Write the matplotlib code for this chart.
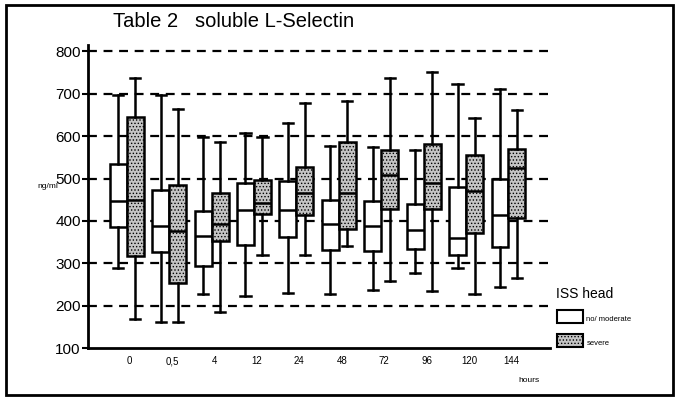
# IMPORT LIBRARIES
import numpy as np
import matplotlib.pyplot as plt
from matplotlib.patches import Rectangle

plt.rcParams['font.family'] = ['Liberation Sans', 'DejaVu Sans']
plt.rcParams['hatch.color'] = '#444444'
plt.rcParams['hatch.linewidth'] = 0.6

# DATA (ng/ml)
hours = ['0', '0,5', '4', '12', '24', '48', '72', '96', '120', '144']

# NO / MODERATE
mod_lo = [290, 161, 227, 223, 231, 228, 237, 276, 288, 245]
mod_q1 = [385, 327, 293, 343, 362, 331, 329, 333, 319, 339]
mod_med = [446, 389, 364, 426, 426, 392, 387, 378, 360, 413]
mod_q3 = [535, 474, 423, 489, 495, 450, 448, 440, 481, 499]
mod_hi = [698, 696, 599, 608, 630, 577, 575, 567, 723, 711]

# SEVERE
sev_lo = [168, 161, 186, 319, 319, 341, 258, 235, 227, 266]
sev_q1 = [318, 253, 353, 417, 413, 380, 427, 427, 371, 407]
sev_med = [449, 376, 393, 442, 465, 465, 509, 489, 471, 524]
sev_q3 = [645, 485, 466, 497, 526, 586, 567, 581, 556, 570]
sev_hi = [737, 665, 587, 599, 677, 684, 737, 752, 643, 661]


def make_stats(lo, q1, med, q3, hi):
    stats = []
    for i in range(len(lo)):
        stats.append({'whislo': lo[i], 'q1': q1[i], 'med': med[i],
                      'q3': q3[i], 'whishi': hi[i], 'fliers': []})
    return stats


fig = plt.figure(figsize=(6.85, 4.09), dpi=100)
ax = fig.add_axes([0.128, 0.149, 0.675, 0.741])

x = np.arange(len(hours))

# GRID
for v in range(200, 900, 100):
    ax.axhline(v, color='black', linestyle=(0, (4, 3)), linewidth=1.6, zorder=1)

line_style = dict(linewidth=1.8, color='black')

b1 = ax.bxp(make_stats(mod_lo, mod_q1, mod_med, mod_q3, mod_hi),
            positions=x - 0.2, widths=0.4, capwidths=0.24, patch_artist=True,
            boxprops=dict(linewidth=1.8, edgecolor='black', facecolor='white'),
            medianprops=line_style, whiskerprops=line_style, capprops=line_style,
            showfliers=False, manage_ticks=False)
b2 = ax.bxp(make_stats(sev_lo, sev_q1, sev_med, sev_q3, sev_hi),
            positions=x + 0.2, widths=0.4, capwidths=0.24, patch_artist=True,
            boxprops=dict(linewidth=1.8, edgecolor='black', facecolor='#c4c4c4', hatch='.....'),
            medianprops=line_style, whiskerprops=line_style, capprops=line_style,
            showfliers=False, manage_ticks=False)
for b in (b1, b2):
    for art in b['boxes'] + b['whiskers'] + b['caps'] + b['medians']:
        art.set_zorder(3)

ax.set_xlim(-0.92, 9.98)
ax.set_ylim(100, 815)
ax.set_yticks(range(100, 900, 100))
ax.set_xticks(x + 0.07)
ax.set_xticklabels(hours, fontsize=7)
ax.tick_params(axis='y', labelsize=11, length=4, width=1.5, pad=1)
ax.tick_params(axis='x', length=0, pad=6)

for s in ['top', 'right']:
    ax.spines[s].set_visible(False)
ax.spines['left'].set_linewidth(2)
ax.spines['bottom'].set_linewidth(2)

# TEXTS
fig.text(0.165, 0.935, 'Table 2   soluble L-Selectin', fontsize=14.5)
fig.text(0.055, 0.54, 'ng/ml', fontsize=6)
fig.text(0.757, 0.065, 'hours', fontsize=6)

# LEGEND
fig.text(0.812, 0.272, 'ISS head', fontsize=10)
fig.patches.append(Rectangle((0.813, 0.21), 0.038, 0.032, transform=fig.transFigure,
                             facecolor='white', edgecolor='black', linewidth=1.5))
fig.text(0.856, 0.215, 'no/ moderate', fontsize=5.5)
fig.patches.append(Rectangle((0.813, 0.152), 0.038, 0.032, transform=fig.transFigure,
                             facecolor='#c4c4c4', edgecolor='black', linewidth=1.5,
                             hatch='.....'))
fig.text(0.856, 0.157, 'severe', fontsize=5.5)

# FRAME
fig.patches.append(Rectangle((0.009, 0.034), 0.973, 0.953, transform=fig.transFigure,
                             facecolor='none', edgecolor='black', linewidth=2))

plt.savefig('out.png', dpi=100)
